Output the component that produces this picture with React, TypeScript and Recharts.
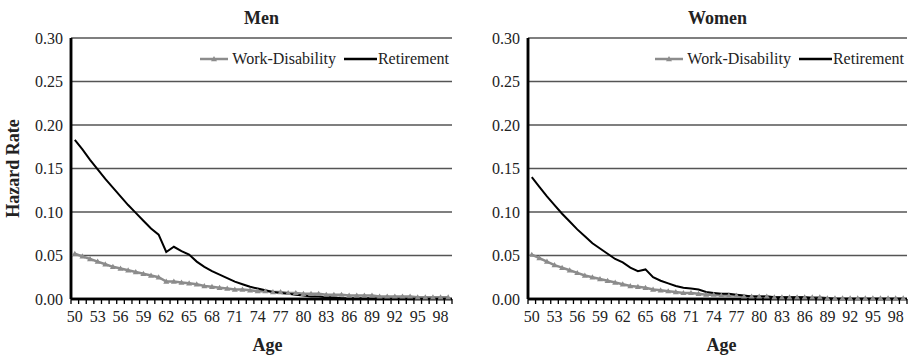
import React from 'react';
import { LineChart, Line, XAxis, YAxis, CartesianGrid, Label } from 'recharts';

const ages = [
  50, 51, 52, 53, 54, 55, 56, 57, 58, 59, 60, 61, 62, 63, 64, 65, 66, 67, 68, 69,
  70, 71, 72, 73, 74, 75, 76, 77, 78, 79, 80, 81, 82, 83, 84, 85, 86, 87, 88, 89,
  90, 91, 92, 93, 94, 95, 96, 97, 98, 99,
];

const menRetirement = [
  0.183, 0.172, 0.160, 0.149, 0.138, 0.128, 0.118, 0.108, 0.099, 0.090,
  0.081, 0.074, 0.054, 0.060, 0.055, 0.051, 0.043, 0.037, 0.032, 0.028,
  0.024, 0.020, 0.017, 0.014, 0.012, 0.010, 0.008, 0.007, 0.006, 0.005,
  0.004, 0.003, 0.003, 0.002, 0.002, 0.001, 0.001, 0.001, 0.001, 0.001,
  0.000, 0.000, 0.000, 0.000, 0.000, 0.000, 0.000, 0.000, 0.000, 0.000,
];

const menDisability = [
  0.052, 0.049, 0.046, 0.043, 0.040, 0.037, 0.035, 0.033, 0.031, 0.029,
  0.027, 0.025, 0.020, 0.020, 0.019, 0.018, 0.017, 0.015, 0.014, 0.013,
  0.012, 0.011, 0.011, 0.010, 0.009, 0.009, 0.008, 0.008, 0.007, 0.007,
  0.006, 0.006, 0.006, 0.005, 0.005, 0.005, 0.004, 0.004, 0.004, 0.004,
  0.003, 0.003, 0.003, 0.003, 0.003, 0.002, 0.002, 0.002, 0.002, 0.002,
];

const womenRetirement = [
  0.140, 0.129, 0.118, 0.108, 0.098, 0.089, 0.080, 0.072, 0.064, 0.058,
  0.052, 0.046, 0.042, 0.036, 0.032, 0.034, 0.025, 0.021, 0.018, 0.015,
  0.013, 0.012, 0.011, 0.008, 0.007, 0.006, 0.006, 0.005, 0.004, 0.003,
  0.003, 0.003, 0.002, 0.002, 0.002, 0.002, 0.002, 0.001, 0.001, 0.001,
  0.000, 0.000, 0.000, 0.000, 0.000, 0.000, 0.000, 0.000, 0.000, 0.000,
];

const womenDisability = [
  0.051, 0.047, 0.043, 0.039, 0.036, 0.033, 0.030, 0.027, 0.025, 0.023,
  0.021, 0.019, 0.017, 0.015, 0.014, 0.013, 0.011, 0.010, 0.009, 0.008,
  0.007, 0.007, 0.006, 0.005, 0.005, 0.004, 0.004, 0.004, 0.003, 0.003,
  0.003, 0.003, 0.002, 0.002, 0.002, 0.002, 0.002, 0.002, 0.002, 0.001,
  0.001, 0.001, 0.001, 0.001, 0.001, 0.001, 0.001, 0.001, 0.001, 0.001,
];

const yTicks = [0, 0.05, 0.1, 0.15, 0.2, 0.25, 0.3];
const panelTitles = ['Men', 'Women'];
const seriesNames = ['Work-Disability', 'Retirement'];
const xLabel = 'Age';
const yLabel = 'Hazard Rate';

const FONT = 'Liberation Serif, serif';
const GRAY = '#8c8c8c';

const makeData = (ret: number[], dis: number[]) =>
  ages.map((a, i) => ({ age: a, retirement: ret[i], disability: dis[i] }));

const menData = makeData(menRetirement, menDisability);
const womenData = makeData(womenRetirement, womenDisability);

const Triangle = (props: any) => {
  const { cx, cy } = props;
  if (cx == null || cy == null) return null;
  return (
    <polygon
      points={`${cx},${cy - 3} ${cx - 3},${cy + 2.2} ${cx + 3},${cy + 2.2}`}
      fill={GRAY}
      stroke="none"
    />
  );
};

const makeXTick = (count: number, plotWidth: number) => (props: any) => {
  const { x, y, payload, index } = props;
  const half = payload && payload.offset ? payload.offset : plotWidth / count / 2;
  const isLast = index === count - 1;
  return (
    <g>
      <rect x={x - half - 0.65} y={y} width={1.3} height={5} fill="#000" />
      {isLast && <rect x={x + half - 0.65} y={y} width={1.3} height={5} fill="#000" />}
      {index % 3 === 0 && (
        <text x={x} y={y + 23} textAnchor="middle" style={{ fontFamily: FONT, fontSize: 16, fill: '#222' }}>
          {payload.value}
        </text>
      )}
    </g>
  );
};

const LegendBox = ({ right }: any) => (
  <div
    style={{
      position: 'absolute',
      top: 49,
      right,
      display: 'flex',
      alignItems: 'center',
      fontFamily: FONT,
      fontSize: 16,
      lineHeight: '20px',
      color: '#222',
      whiteSpace: 'nowrap',
    }}
  >
    <svg width={28} height={10} style={{ marginRight: 4 }}>
      <line x1={0} x2={28} y1={5} y2={5} stroke={GRAY} strokeWidth={2.5} />
      <polygon points="14,2 11,7.2 17,7.2" fill={GRAY} />
    </svg>
    <span>{seriesNames[0]}</span>
    <svg width={33} height={10} style={{ marginLeft: 8, marginRight: 1 }}>
      <line x1={0} x2={33} y1={5} y2={5} stroke="#000" strokeWidth={2.5} />
    </svg>
    <span>{seriesNames[1]}</span>
  </div>
);

const YLabelContent = (props: any) => {
  const vb = props.viewBox || {};
  const cy = (vb.y || 0) + (vb.height || 0) / 2;
  const cx = 13;
  return (
    <text
      x={cx}
      y={cy}
      transform={`rotate(-90 ${cx} ${cy})`}
      textAnchor="middle"
      dominantBaseline="central"
      style={{ fontFamily: FONT, fontSize: 18, fontWeight: 'bold', fill: '#222' }}
    >
      {yLabel}
    </text>
  );
};

const Panel = ({ data, title, yWidth, right, left, legendRight, ageDx, showYLabel }: any) => (
  <div style={{ position: 'absolute', left, top: 0, width: 456, height: 355 }}>
    <div
      style={{
        position: 'absolute',
        top: 7,
        left: yWidth,
        width: 456 - yWidth - right,
        textAlign: 'center',
        fontFamily: FONT,
        fontWeight: 'bold',
        fontSize: 18,
        color: '#222',
        lineHeight: '22px',
      }}
    >
      {title}
    </div>
    <LineChart width={456} height={355} data={data} margin={{ top: 38, right, left: 0, bottom: 0 }}>
      <CartesianGrid horizontal vertical={false} stroke="#555" strokeWidth={1.5} />
      <CartesianGrid
        horizontal
        vertical
        stroke="#000"
        strokeWidth={2.5}
        horizontalCoordinatesGenerator={(p: any) => [p.offset.top + p.offset.height]}
        verticalCoordinatesGenerator={(p: any) => [p.offset.left]}
      />
      <XAxis
        dataKey="age"
        type="category"
        scale="band"
        interval={0}
        height={56}
        tickSize={0}
        tickMargin={0}
        tickLine={false}
        axisLine={{ stroke: '#000', strokeWidth: 2.5 }}
        tick={makeXTick(data.length, 456 - yWidth - right)}
      >
        <Label
          value={xLabel}
          position="insideBottom"
          offset={4}
          dx={ageDx}
          style={{ fontFamily: FONT, fontSize: 18, fontWeight: 'bold', fill: '#222' }}
        />
      </XAxis>
      <YAxis
        domain={[0, 0.3]}
        ticks={yTicks}
        width={yWidth}
        tickSize={0}
        tickMargin={8}
        tickLine={false}
        axisLine={{ stroke: '#000', strokeWidth: 2.5 }}
        tickFormatter={(v: number) => v.toFixed(2)}
        tick={{ style: { fontFamily: FONT, fontSize: 16, fill: '#222' } }}
      >
        {showYLabel && <Label content={<YLabelContent />} />}
      </YAxis>
      <Line
        dataKey="disability"
        name={seriesNames[0]}
        stroke={GRAY}
        strokeWidth={2.5}
        dot={<Triangle />}
        isAnimationActive={false}
      />
      <Line
        dataKey="retirement"
        name={seriesNames[1]}
        stroke="#000"
        strokeWidth={2}
        dot={false}
        isAnimationActive={false}
      />
    </LineChart>
    <LegendBox right={legendRight} />
  </div>
);

export default function App() {
  return (
    <div style={{ position: 'absolute', left: 0, top: 0, width: 912, height: 355, background: '#fff' }}>
      <Panel data={menData} title={panelTitles[0]} yWidth={71} right={4} left={0} legendRight={7} ageDx={6} showYLabel />
      <Panel data={womenData} title={panelTitles[1]} yWidth={72} right={5} left={456} legendRight={8} ageDx={4} showYLabel={false} />
    </div>
  );
}
